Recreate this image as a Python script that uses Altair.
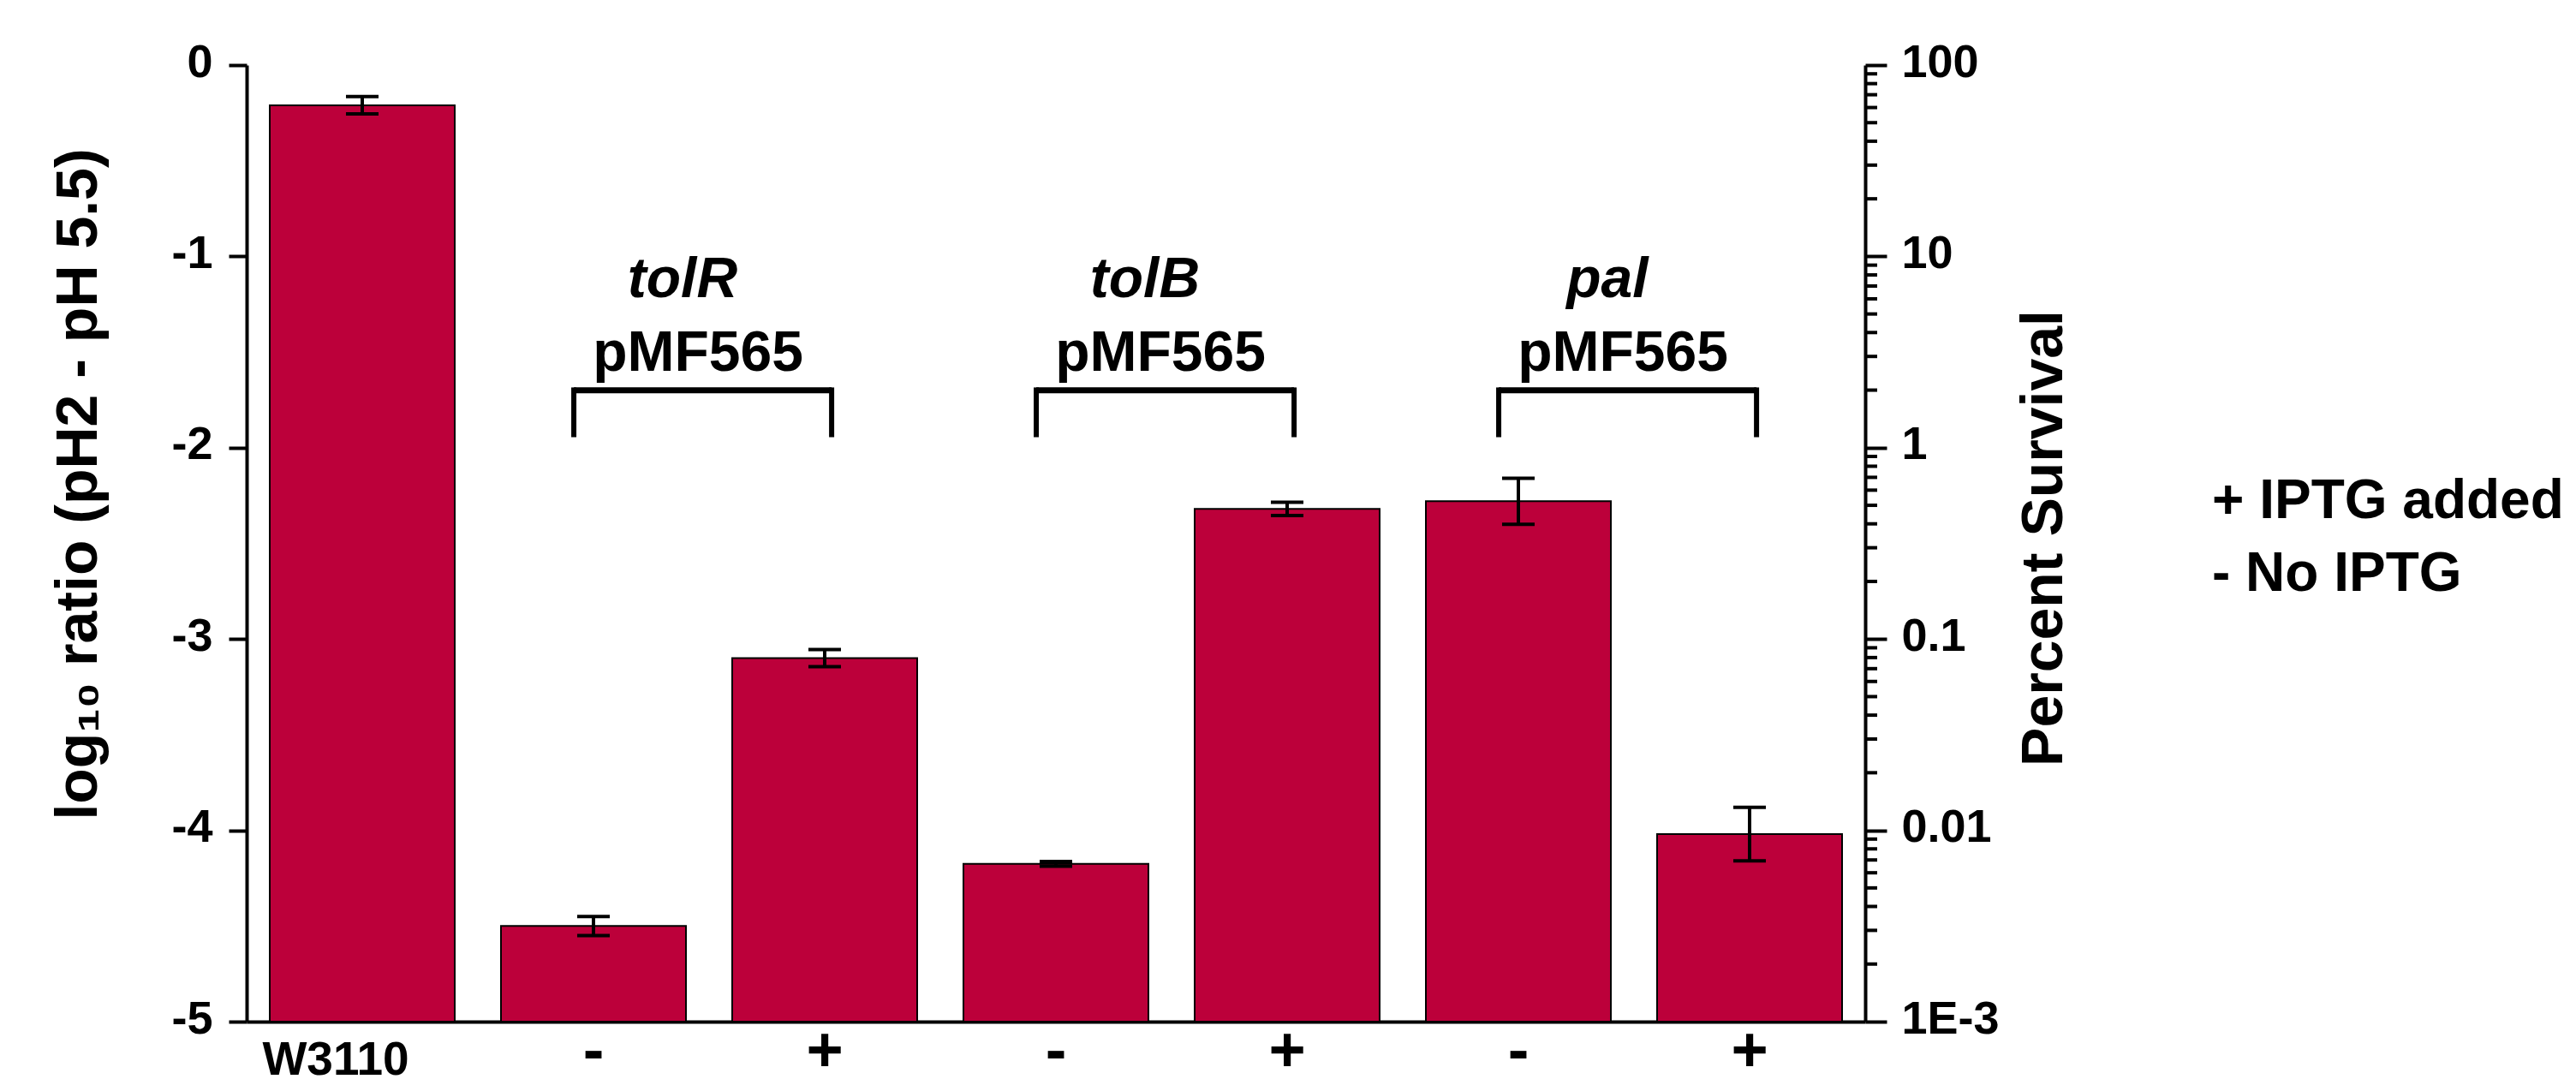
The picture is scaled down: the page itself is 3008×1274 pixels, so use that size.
import altair as alt
import pandas as pd

# ---------------- data ----------------
categories = ["W3110", "tolR -", "tolR +", "tolB -", "tolB +", "pal -", "pal +"]
tick_labels = ["W3110", "-", "+", "-", "+", "-", "+"]
log_ratio = [-0.21, -4.50, -3.10, -4.175, -2.32, -2.28, -4.02]
error = [0.045, 0.05, 0.045, 0.012, 0.035, 0.12, 0.14]
genes = ["tolR", "tolB", "pal"]
plasmid = "pMF565"
legend_lines = ["+ IPTG added", "- No IPTG"]
left_ticks = [0, -1, -2, -3, -4, -5]
survival_major = [100, 10, 1, 0.1, 0.01, 0.001]
survival_labels = ["100", "10", "1", "0.1", "0.01", "1E-3"]
survival_minor = [m * 10.0 ** k for k in range(-3, 2) for m in range(2, 10)]

# ---------------- styling ----------------
W, H = 1890, 1117
FONT = "Liberation Sans"
RED = "#BC003A"
N = len(categories)

df = pd.DataFrame({"cat": categories, "label": tick_labels,
                   "value": log_ratio, "err": error})
df["idx"] = range(N)

ann = pd.DataFrame({"gene": genes,
                    "first": [categories.index(g + " -") for g in genes]})

xs = alt.Scale(domain=[0, N], nice=False, zero=False)
ys = alt.Scale(domain=[-5, 0], nice=False, zero=False)

left_axis = alt.Axis(
    values=left_ticks, grid=False,
    tickSize=21, tickWidth=4, tickColor="black",
    domainWidth=4, domainColor="black",
    labelFont=FONT, labelFontWeight="bold", labelFontSize=54, labelColor="black",
    labelPadding=19, labelOffset=-3,
    labelExpr="datum.value == 0 ? '0' : '-' + format(abs(datum.value), 'd')",
    title="log\u2081\u2080 ratio (pH2 - pH 5.5)",
    titleFont=FONT, titleFontWeight="bold", titleFontSize=68, titleColor="black",
    titleAngle=270, titleX=-176, titleY=489, titleBaseline="alphabetic", titleAlign="center",
)
x_axis = alt.Axis(labels=False, ticks=False, grid=False, title=None,
                  domainWidth=4, domainColor="black")


def X(field):
    return alt.X(field, scale=xs, axis=x_axis)


def Y(field):
    return alt.Y(field, scale=ys, axis=left_axis)


base = alt.Chart(df).transform_calculate(
    x0="datum.idx + 0.1", x1="datum.idx + 0.9", xc="datum.idx + 0.5",
    cl="datum.idx + 0.5 - 0.0704", cr="datum.idx + 0.5 + 0.0704",
    lo="datum.value - datum.err", hi="datum.value + datum.err",
    floor="-5",
)

bars = base.mark_bar(color=RED, stroke="black", strokeWidth=2).encode(
    x=X("x0:Q"), x2="x1:Q",
    y=Y("value:Q"), y2="floor:Q",
)

err_v = base.mark_rule(color="black", strokeWidth=4).encode(
    x=X("xc:Q"),
    y=Y("lo:Q"), y2="hi:Q",
)

err_caps = base.transform_fold(["lo", "hi"], as_=["end", "ey"]).mark_rule(
    color="black", strokeWidth=4).encode(
    x=X("cl:Q"), x2="cr:Q",
    y=Y("ey:Q"),
)

w_label = base.transform_filter("datum.idx == 0").mark_text(
    font=FONT, fontWeight="bold", fontSize=55, color="black",
    baseline="alphabetic", align="center", dy=62, dx=-31).encode(
    x=X("xc:Q"), y=Y("floor:Q"), text="label:N",
)

pm_label = base.transform_filter("datum.idx > 0").mark_text(
    font=FONT, fontWeight="bold", fontSize=74, color="black",
    baseline="middle", align="center", dy=36).encode(
    x=X("xc:Q"), y=Y("floor:Q"), text="label:N",
)

abase = alt.Chart(ann).transform_calculate(
    gx="datum.first + 0.5 + 0.385",
    px="datum.first + 0.5 + 0.452",
    bl="datum.first + 0.5 - 0.085",
    br="datum.first + 1.5 + 0.03",
    gy="-1.213", py="-1.596", btop="-1.70", bleg="-1.685", bbot="-1.945",
)

gene_text = abase.mark_text(
    font=FONT, fontWeight="bold", fontStyle="italic", fontSize=66, color="black",
    baseline="alphabetic", align="center").encode(
    x=X("gx:Q"), y=Y("gy:Q"), text="gene:N",
)

plasmid_text = abase.mark_text(
    font=FONT, fontWeight="bold", fontSize=66, color="black",
    baseline="alphabetic", align="center", text=plasmid).encode(
    x=X("px:Q"), y=Y("py:Q"),
)

bracket_top = abase.mark_rule(color="black", strokeWidth=7).encode(
    x=X("bl:Q"), x2="br:Q", y=Y("btop:Q"),
)

bracket_legs = abase.transform_fold(["bl", "br"], as_=["side", "lx"]).mark_rule(
    color="black", strokeWidth=6).encode(
    x=X("lx:Q"), y=Y("bleg:Q"), y2="bbot:Q",
)

legend = alt.Chart(pd.DataFrame({"k": [0]})).mark_text(
    font=FONT, fontWeight="bold", fontSize=64, color="black",
    align="left", baseline="alphabetic", lineBreak="\n", lineHeight=85).encode(
    x=alt.value(2295),
    y=alt.value(529),
    text=alt.value("\n".join(legend_lines)),
)

left = alt.layer(bars, err_v, err_caps, w_label, pm_label,
                 bracket_top, bracket_legs, gene_text, plasmid_text, legend)

label_expr = "{}[indexof({}, datum.value)]".format(
    "[" + ",".join("'" + s + "'" for s in survival_labels) + "]",
    "[" + ",".join(repr(v) for v in survival_major) + "]",
)

right_axis = alt.Axis(
    orient="right", values=survival_major, grid=False,
    tickSize=25, tickWidth=4, tickColor="black",
    domainWidth=4, domainColor="black",
    labelFont=FONT, labelFontWeight="bold", labelFontSize=54, labelColor="black",
    labelPadding=17, labelOffset=-3, labelExpr=label_expr,
    title="Percent Survival",
    titleFont=FONT, titleFontWeight="bold", titleFontSize=68, titleColor="black",
    titleAngle=270, titleX=229, titleY=552, titleBaseline="alphabetic", titleAlign="center",
)

right = alt.Chart(pd.DataFrame({"v": survival_minor})).mark_rule(
    color="black", strokeWidth=4).encode(
    y=alt.Y("v:Q", scale=alt.Scale(type="log", domain=[0.001, 100], nice=False),
            axis=right_axis),
    x=alt.value(W),
    x2=alt.value(W + 14),
)

chart = alt.layer(left, right).resolve_scale(y="independent").properties(
    width=W, height=H,
    padding={"left": 280, "top": 68, "right": 822, "bottom": 73},
    autosize=alt.AutoSizeParams(type="none"),
    background="white",
).configure_view(stroke=None).configure_axis(grid=False)

chart.save("out.html", embed_options={"renderer": "svg", "actions": False})
